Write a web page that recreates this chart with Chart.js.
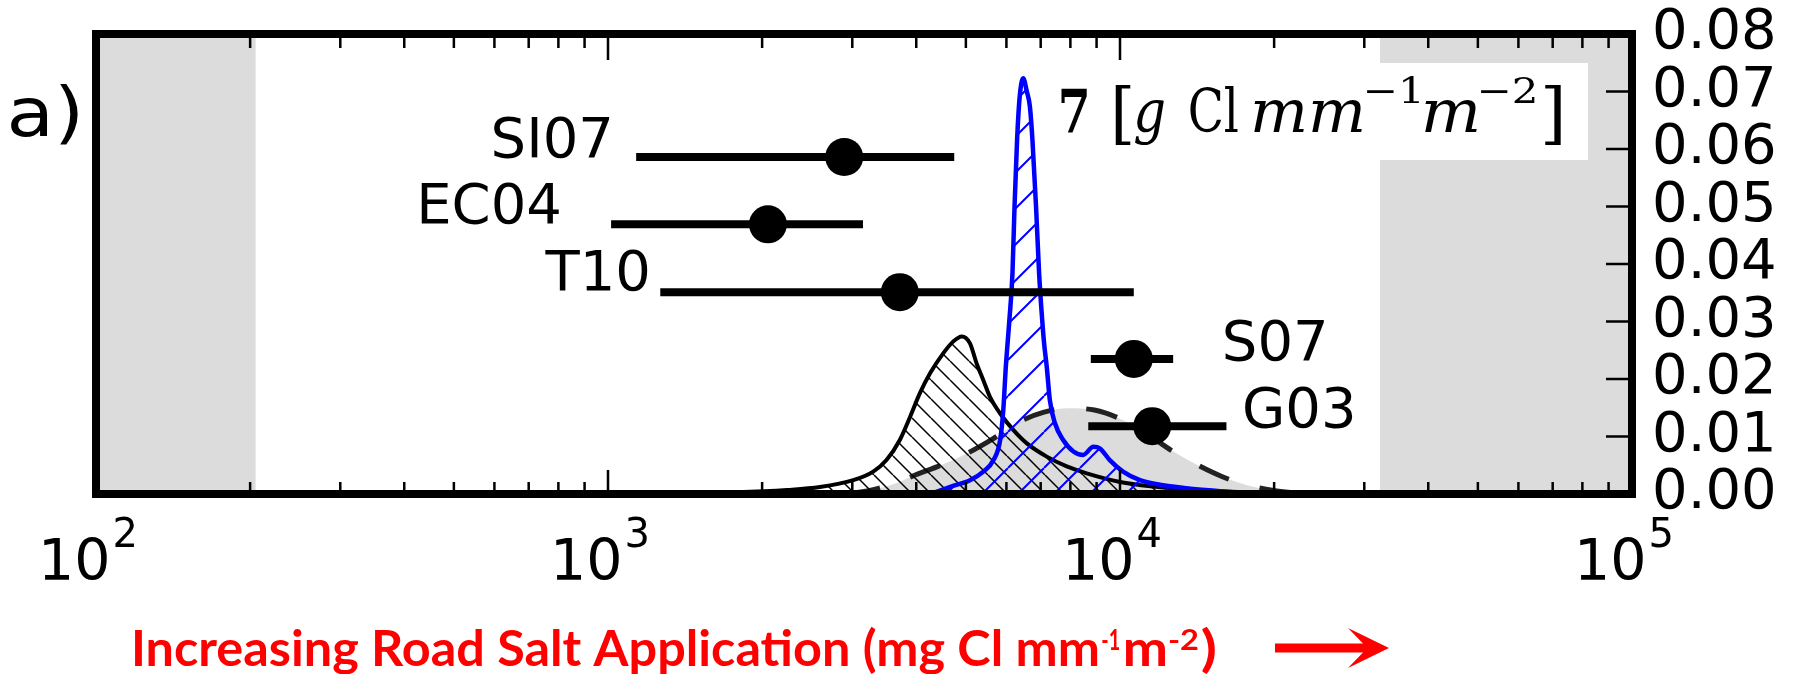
<!DOCTYPE html>
<html>
<head>
<meta charset="utf-8">
<script src="https://cdn.jsdelivr.net/npm/chart.js@4.4.1/dist/chart.umd.min.js"></script>
<style>
html,body{margin:0;padding:0;background:#fff;}
#wrap{width:1796px;height:674px;position:relative;}
</style>
</head>
<body>
<div id="wrap"><canvas id="c" width="1796" height="674"></canvas></div>
<script>
// ---------------- data ----------------
const xRange = [100, 100000];
const yRange = [0, 0.08];
const yTickValues = [0, 0.01, 0.02, 0.03, 0.04, 0.05, 0.06, 0.07, 0.08];
const xTickValues = [100, 1000, 10000, 100000];
const xTickBase = '10';
const xTickExponents = ['2', '3', '4', '5'];
const xMinorTickValues = [200, 300, 400, 500, 600, 700, 800, 900,
  2000, 3000, 4000, 5000, 6000, 7000, 8000, 9000,
  20000, 30000, 40000, 50000, 60000, 70000, 80000, 90000];
const shadeLeft = [100, 205];
const shadeRight = [32200, 100000];

const studyNames = ['SI07', 'EC04', 'T10', 'S07', 'G03'];
const studyCenter = [2893, 2053, 3715, 10640, 11560];
const studyLow = [1135, 1014, 1265, 8770, 8670];
const studyHigh = [4745, 3148, 10640, 12700, 16140];
const studyY = [0.0586, 0.0469, 0.0351, 0.0235, 0.0118];

// black solid curve (hatched \\)
const blackX = [794, 1259, 1778, 2239, 2594, 3013, 3296, 3499, 3715, 3890, 4064, 4256, 4519, 4721, 4909, 5093, 5248, 5408, 5572, 5834, 6194, 6577, 7194, 7870, 8610, 10000, 11610, 13490, 17780, 25120];
const blackY = [0, 0.0001, 0.0003, 0.0007, 0.0012, 0.0024, 0.0039, 0.0059, 0.0094, 0.0134, 0.0175, 0.0210, 0.0245, 0.0265, 0.0274, 0.0262, 0.0227, 0.0198, 0.0169, 0.0140, 0.0111, 0.0088, 0.0065, 0.0048, 0.0036, 0.0021, 0.0013, 0.0008, 0.0003, 0];

// blue curve (hatched /)
const blueX = [4256, 4721, 5093, 5408, 5662, 5834, 5916, 5984, 6081, 6166, 6223, 6295, 6368, 6471, 6577, 6668, 6745, 6855, 6950, 7047, 7112, 7194, 7295, 7464, 7745, 8110, 8472, 8872, 9141, 9550, 10139, 10940, 11967, 13490, 15670, 18200];
const blueY = [0, 0.0014, 0.0024, 0.0039, 0.0059, 0.0094, 0.0146, 0.0221, 0.0303, 0.0384, 0.0500, 0.0616, 0.0690, 0.0723, 0.0700, 0.0674, 0.0616, 0.0500, 0.0384, 0.0303, 0.0260, 0.0221, 0.0163, 0.0123, 0.0094, 0.0074, 0.0068, 0.0082, 0.0079, 0.0059, 0.0039, 0.0024, 0.0016, 0.0010, 0.0005, 0];

// dashed curve (grey filled)
const dashX = [2951, 3311, 3631, 3981, 4467, 5012, 5623, 6310, 7079, 7943, 8913, 10000, 11220, 12590, 14130, 15850, 17780, 19950, 22390];
const dashY = [0, 0.0008, 0.0018, 0.0033, 0.0050, 0.0070, 0.0095, 0.0124, 0.0142, 0.0149, 0.0146, 0.0131, 0.0106, 0.0076, 0.0051, 0.0030, 0.0015, 0.0006, 0.0001];

// ---------------- layout / annotation settings ----------------
const studyLabelLayout = [
  {x: 1027, y: 0.0621, align: 'right'},
  {x: 813, y: 0.0506, align: 'right'},
  {x: 1213, y: 0.0390, align: 'right'},
  {x: 15810, y: 0.0268, align: 'left'},
  {x: 17300, y: 0.0151, align: 'left'}
];
const panelLabel = {t: 'a)', f: '68px "DejaVu Sans"', x0: 11, x1: 78, dy: 0};
const SERIF = '"DejaVu Serif"';
const unitRuns = [
  {t: '7', f: 'bold 60px ' + SERIF, x0: 1061, x1: 1087, dy: 0},
  {t: '[', f: '68px ' + SERIF, x0: 1115, x1: 1131, dy: 4},
  {t: 'g', f: 'italic 60px ' + SERIF, x0: 1135, x1: 1164, dy: 0},
  {t: 'Cl', f: '60px ' + SERIF, x0: 1190, x1: 1238, dy: 0},
  {t: 'mm', f: 'italic 60px ' + SERIF, x0: 1254, x1: 1362, dy: 0},
  {t: '\u22121', f: '36px ' + SERIF, x0: 1366, x1: 1419, dy: -29},
  {t: 'm', f: 'italic 60px ' + SERIF, x0: 1425, x1: 1477, dy: 0},
  {t: '\u22122', f: '36px ' + SERIF, x0: 1480, x1: 1535, dy: -29},
  {t: ']', f: '68px ' + SERIF, x0: 1545, x1: 1561, dy: 4}
];
const xlabelRuns = [
  {t: 'Increasing Road Salt Application (mg Cl mm', f: 'bold 50px Lato', x0: 135, x1: 1098, dy: 0},
  {t: '-1', f: 'bold 29px Lato', x0: 1102, x1: 1119, dy: -16},
  {t: 'm', f: 'bold 50px Lato', x0: 1126, x1: 1166, dy: 0},
  {t: '-2', f: 'bold 29px Lato', x0: 1169, x1: 1198, dy: -16},
  {t: ')', f: 'bold 50px Lato', x0: 1202, x1: 1215, dy: 0}
];

// ---------------- helpers ----------------
function hatch(size, color, lw, dir) {
  const c = document.createElement('canvas');
  c.width = size; c.height = size;
  const g = c.getContext('2d');
  g.strokeStyle = color; g.lineWidth = lw;
  g.beginPath();
  for (const o of [-size, 0, size]) {
    if (dir === 'back') { g.moveTo(o, 0); g.lineTo(o + size, size); }
    else { g.moveTo(o, size); g.lineTo(o + size, 0); }
  }
  g.stroke();
  return g.createPattern(c, 'repeat');
}
function fitRun(ctx, r, baseline) {
  ctx.font = r.f;
  const m = ctx.measureText(r.t);
  const inkL = m.actualBoundingBoxLeft, inkW = m.actualBoundingBoxRight + m.actualBoundingBoxLeft;
  const s = (r.x1 - r.x0) / inkW;
  ctx.save();
  ctx.translate(r.x0, baseline + r.dy);
  ctx.scale(s, 1);
  ctx.textAlign = 'left';
  ctx.textBaseline = 'alphabetic';
  ctx.fillText(r.t, inkL, 0);
  ctx.restore();
}
const pts = (xs, ys) => xs.map((x, i) => ({x, y: ys[i]}));

const cvs = document.getElementById('c');
const blackHatch = hatch(19, '#000000', 1.5, 'back');
const blueHatch = hatch(36, '#0000ff', 2, 'fwd');

const deco = {
  id: 'deco',
  beforeDatasetsDraw(chart) {
    const {ctx, chartArea: a, scales: {x}} = chart;
    ctx.save();
    ctx.fillStyle = '#dcdcdc';
    for (const [lo, hi] of [shadeLeft, shadeRight]) {
      const x0 = x.getPixelForValue(lo), x1 = x.getPixelForValue(hi);
      ctx.fillRect(x0, a.top, x1 - x0, a.bottom - a.top);
    }
    ctx.restore();
  },
  afterDatasetsDraw(chart) {
    const {ctx, chartArea: a, scales: {x, y}} = chart;
    ctx.save();
    // unit text box
    ctx.fillStyle = '#ffffff';
    ctx.fillRect(1042, 63, 1588 - 1042, 160 - 63);
    ctx.fillStyle = '#000';
    for (const r of unitRuns) fitRun(ctx, r, 132);
    // study labels
    ctx.font = '56px "DejaVu Sans"';
    ctx.textBaseline = 'alphabetic';
    studyNames.forEach((n, i) => {
      const L = studyLabelLayout[i];
      ctx.textAlign = L.align;
      ctx.fillText(n, x.getPixelForValue(L.x), y.getPixelForValue(L.y) + 20);
    });
    // ticks (inside)
    ctx.strokeStyle = '#000';
    ctx.lineWidth = 2.5;
    ctx.beginPath();
    for (const v of xTickValues) {
      const p = x.getPixelForValue(v);
      ctx.moveTo(p, a.top); ctx.lineTo(p, a.top + 26);
      ctx.moveTo(p, a.bottom); ctx.lineTo(p, a.bottom - 24);
    }
    for (const v of xMinorTickValues) {
      const p = x.getPixelForValue(v);
      ctx.moveTo(p, a.top); ctx.lineTo(p, a.top + 14);
      ctx.moveTo(p, a.bottom); ctx.lineTo(p, a.bottom - 12);
    }
    for (const v of yTickValues) {
      const p = y.getPixelForValue(v);
      ctx.moveTo(a.right, p); ctx.lineTo(a.right - 26, p);
    }
    ctx.stroke();
    // frame
    ctx.lineWidth = 8;
    ctx.strokeRect(a.left, a.top, a.right - a.left, a.bottom - a.top);
    ctx.restore();
  },
  afterDraw(chart) {
    const {ctx, chartArea: a, scales: {x, y}} = chart;
    ctx.save();
    ctx.fillStyle = '#000';
    ctx.textBaseline = 'alphabetic';
    ctx.textAlign = 'left';
    // y tick labels
    ctx.font = '56px "DejaVu Sans"';
    for (const v of yTickValues) {
      ctx.fillText(v.toFixed(2), a.right + 20, y.getPixelForValue(v) + 14);
    }
    // x tick labels 10^n
    xTickValues.forEach((v, i) => {
      const p = x.getPixelForValue(v);
      ctx.font = '57px "DejaVu Sans"';
      const w1 = ctx.measureText(xTickBase).width;
      ctx.font = '40px "DejaVu Sans"';
      const w2 = ctx.measureText(xTickExponents[i]).width;
      const start = p - 8 - (w1 + w2 + 2) / 2;
      ctx.font = '57px "DejaVu Sans"';
      ctx.fillText(xTickBase, start, 580);
      ctx.font = '40px "DejaVu Sans"';
      ctx.fillText(xTickExponents[i], start + w1 + 2, 547);
    });
    // panel label
    fitRun(ctx, panelLabel, 136);
    // red x label
    ctx.fillStyle = '#ff0000';
    for (const r of xlabelRuns) fitRun(ctx, r, 666);
    // arrow
    ctx.beginPath();
    ctx.moveTo(1275, 643.5); ctx.lineTo(1363, 643.5); ctx.lineTo(1348, 628);
    ctx.lineTo(1389, 648); ctx.lineTo(1348, 668); ctx.lineTo(1363, 652.5);
    ctx.lineTo(1275, 652.5); ctx.closePath();
    ctx.fill();
    ctx.restore();
  }
};

const errorbarSets = studyNames.map((n, i) => ({
  label: n,
  data: [{x: studyLow[i], y: studyY[i]}, {x: studyHigh[i], y: studyY[i]}],
  borderColor: '#000', borderWidth: 8, borderCapStyle: 'butt',
  pointRadius: 0, fill: false, order: 1
}));

new Chart(cvs, {
  type: 'line',
  data: {
    datasets: [
      {label: 'centres', data: pts(studyCenter, studyY), showLine: false,
       pointRadius: 19, pointBackgroundColor: '#000', pointBorderWidth: 0, order: 0},
      ...errorbarSets,
      {label: 'blue', data: pts(blueX, blueY), borderColor: '#0000ff', borderWidth: 4.5,
       backgroundColor: blueHatch, fill: 'origin', pointRadius: 0,
       cubicInterpolationMode: 'monotone', order: 3},
      {label: 'black', data: pts(blackX, blackY), borderColor: '#000', borderWidth: 4,
       backgroundColor: blackHatch, fill: 'origin', pointRadius: 0,
       cubicInterpolationMode: 'monotone', order: 5},
      {label: 'dashed', data: pts(dashX, dashY), borderColor: '#222', borderWidth: 5,
       borderDash: [32, 32], backgroundColor: '#dcdcdc', fill: 'origin', pointRadius: 0,
       cubicInterpolationMode: 'monotone', order: 7}
    ]
  },
  options: {
    responsive: false, animation: false, devicePixelRatio: 1,
    layout: {padding: {left: 96, top: 34, right: 0, bottom: 0}},
    plugins: {legend: {display: false}, tooltip: {enabled: false}},
    elements: {line: {borderJoinStyle: 'round'}},
    scales: {
      x: {type: 'logarithmic', min: xRange[0], max: xRange[1], position: 'bottom',
          grid: {display: false, drawTicks: false}, border: {display: false},
          ticks: {display: false},
          afterFit: s => { s.height = 180; }},
      y: {type: 'linear', min: yRange[0], max: yRange[1], position: 'right',
          grid: {display: false, drawTicks: false}, border: {display: false},
          afterBuildTicks: s => { s.ticks = yTickValues.map(v => ({value: v})); },
          ticks: {display: false},
          afterFit: s => { s.width = 164; }}
    }
  },
  plugins: [deco]
});
</script>
</body>
</html>
